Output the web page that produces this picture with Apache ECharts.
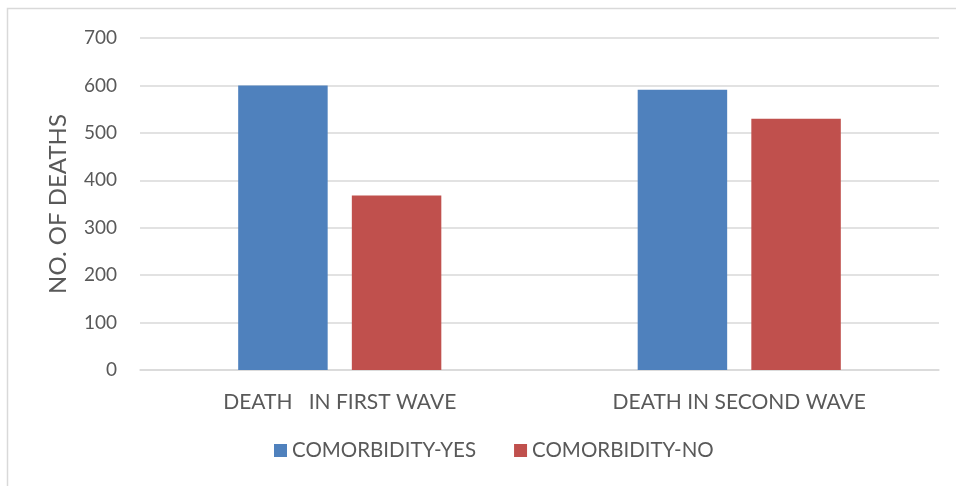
<!DOCTYPE html>
<html><head><meta charset="utf-8">
<script src="https://cdn.jsdelivr.net/npm/echarts@6/dist/echarts.min.js"></script>
<style>html,body{margin:0;padding:0;background:#fff}#c{width:956px;height:486px}</style>
</head><body><div id="c"></div>
<script>
var categories = ['DEATH   IN FIRST WAVE', 'DEATH IN SECOND WAVE'];
var seriesNames = ['COMORBIDITY-YES', 'COMORBIDITY-NO'];
var comorbidityYes = [600, 591];
var comorbidityNo = [368, 530];
var yTicks = [0, 100, 200, 300, 400, 500, 600, 700];
var colors = ['#4f81bd', '#c0504d'];
var FONT = 'Lato';
var chart = echarts.init(document.getElementById('c'));
chart.setOption({
  animation: false,
  textStyle: {fontFamily: FONT, color: '#595959'},
  graphic: [{type: 'rect', shape: {x: 7.5, y: 8.5, width: 960, height: 490}, style: {fill: 'none', stroke: '#d9d9d9', lineWidth: 1.5}, silent: true}],
  grid: {left: 140, right: 17, top: 38, bottom: 116, containLabel: false},
  legend: {
    bottom: 20, left: 269, itemWidth: 13, itemHeight: 13, itemGap: 38,
    icon: 'rect',
    textStyle: {fontFamily: FONT, fontSize: 20.5, color: '#595959'},
    data: seriesNames
  },
  xAxis: {
    type: 'category', data: categories,
    axisLine: {lineStyle: {color: '#d9d9d9', width: 1.5}},
    axisTick: {show: false},
    axisLabel: {fontFamily: FONT, fontSize: 21, color: '#595959', margin: 22}
  },
  yAxis: {
    type: 'value', min: yTicks[0], max: yTicks[yTicks.length - 1], interval: 100,
    name: 'NO. OF DEATHS', nameLocation: 'middle', nameGap: 70,
    nameTextStyle: {fontFamily: FONT, fontSize: 24, color: '#595959'},
    axisLine: {show: false}, axisTick: {show: false},
    axisLabel: {fontFamily: FONT, fontSize: 19, color: '#595959', margin: 23},
    splitLine: {lineStyle: {color: '#d9d9d9', width: 1.5}}
  },
  series: [
    {name: seriesNames[0], type: 'bar', data: comorbidityYes, barWidth: '22.4%', barGap: '27%', itemStyle: {color: colors[0]}},
    {name: seriesNames[1], type: 'bar', data: comorbidityNo, barWidth: '22.4%', barGap: '27%', itemStyle: {color: colors[1]}}
  ]
});
</script></body></html>
